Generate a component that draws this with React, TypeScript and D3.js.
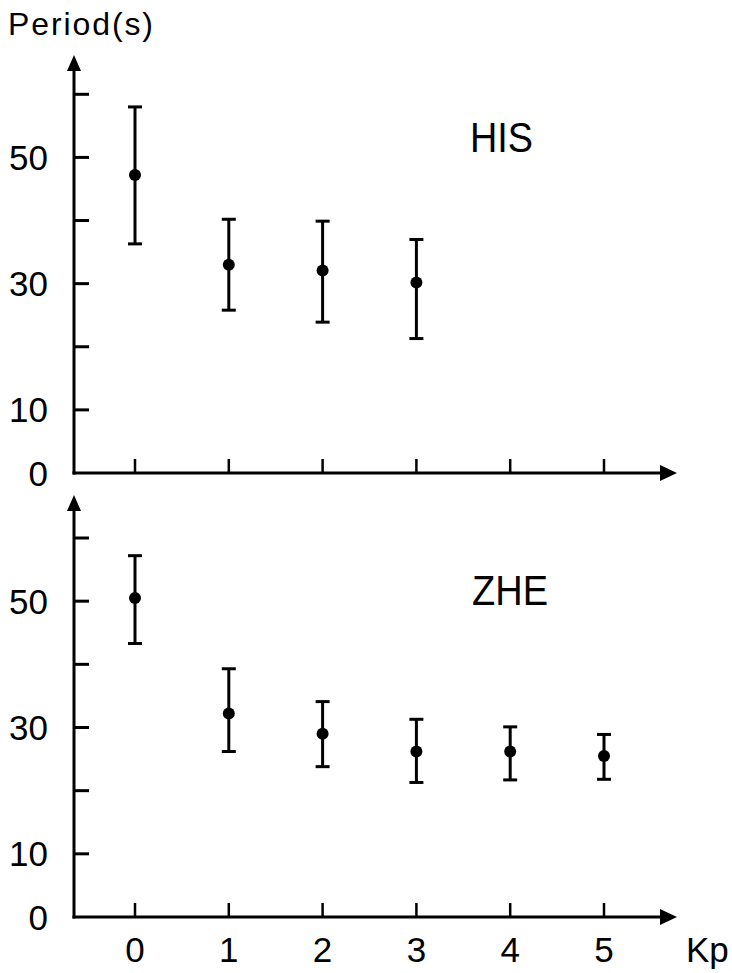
import React from "react";
import * as d3 from "d3";

const kpTop = [0, 1, 2, 3];
const hisMean = [47.2, 33.0, 32.1, 30.2];
const hisLow = [36.3, 25.8, 23.9, 21.3];
const hisHigh = [58.0, 40.2, 39.9, 37.0];

const kpBot = [0, 1, 2, 3, 4, 5];
const zheMean = [50.5, 32.2, 29.0, 26.2, 26.2, 25.5];
const zheLow = [43.3, 26.2, 23.8, 21.3, 21.7, 21.8];
const zheHigh = [57.2, 39.3, 34.1, 31.3, 30.1, 28.9];

const yTickValues = [10, 20, 30, 40, 50, 60];
const yLabelValues = [0, 10, 30, 50];
const xTickValues = [0, 1, 2, 3, 4, 5];

const FONT = "'Liberation Sans', Arial, sans-serif";

const x = d3.scaleLinear().domain([0, 5]).range([135, 604]);
const AXIS_X = 74;
const X_END = 677;

function Panel({ y, kp, mean, low, high, name, arrowTop, nameX, nameY, nameLen }: any) {
  const y0 = y(0);
  return (
    <g>
      <line x1={AXIS_X} x2={AXIS_X} y1={y0 + 1.5} y2={arrowTop + 12} stroke="#000" strokeWidth={3} />
      <path d={`M${AXIS_X},${arrowTop} L${AXIS_X - 7},${arrowTop + 16} L${AXIS_X + 7},${arrowTop + 16} Z`} fill="#000" />
      <line x1={AXIS_X - 1.5} x2={X_END - 12} y1={y0} y2={y0} stroke="#000" strokeWidth={3} />
      <path d={`M${X_END},${y0} L${X_END - 17},${y0 - 8} L${X_END - 17},${y0 + 8} Z`} fill="#000" />
      {yTickValues.map((v) => (
        <line key={"yt" + v} x1={AXIS_X} x2={AXIS_X + 15} y1={y(v)} y2={y(v)} stroke="#000" strokeWidth={3} />
      ))}
      {xTickValues.map((v) => (
        <line key={"xt" + v} x1={x(v)} x2={x(v)} y1={y0} y2={y0 - 14} stroke="#000" strokeWidth={2.5} />
      ))}
      {yLabelValues.map((v) => (
        <text key={"yl" + v} x={48} y={v === 0 ? y0 : y(v)} dy="0.36em" textAnchor="end" fontSize={35} fontFamily={FONT} fill="#000">
          {v}
        </text>
      ))}
      {kp.map((k: number, i: number) => (
        <g key={"e" + k}>
          <line x1={x(k)} x2={x(k)} y1={y(low[i])} y2={y(high[i])} stroke="#000" strokeWidth={3} />
          <line x1={x(k) - 7} x2={x(k) + 7} y1={y(low[i])} y2={y(low[i])} stroke="#000" strokeWidth={3} />
          <line x1={x(k) - 7} x2={x(k) + 7} y1={y(high[i])} y2={y(high[i])} stroke="#000" strokeWidth={3} />
          <circle cx={x(k)} cy={y(mean[i])} r={6} fill="#000" />
        </g>
      ))}
      <text x={nameX} y={nameY} fontSize={43} fontFamily={FONT} fill="#000" textLength={nameLen} lengthAdjust="spacingAndGlyphs">
        {name}
      </text>
    </g>
  );
}

export default function App() {
  const yTop = d3.scaleLinear().domain([0, 60]).range([473, 94.3]);
  const yBot = d3.scaleLinear().domain([0, 60]).range([917, 538]);
  return (
    <svg width={732} height={973} style={{ position: "absolute", left: 0, top: 0, background: "#fff" }}>
      <rect width={732} height={973} fill="#fff" />
      <text x={8} y={35} fontSize={32} fontFamily={FONT} fill="#000" textLength={145} lengthAdjust="spacing">
        Period(s)
      </text>
      <Panel y={yTop} kp={kpTop} mean={hisMean} low={hisLow} high={hisHigh} name="HIS" arrowTop={55} nameX={470} nameY={152} nameLen={63} />
      <Panel y={yBot} kp={kpBot} mean={zheMean} low={zheLow} high={zheHigh} name="ZHE" arrowTop={495} nameX={472} nameY={605} nameLen={76} />
      {xTickValues.map((v) => (
        <text key={"xl" + v} x={x(v)} y={962} textAnchor="middle" fontSize={35} fontFamily={FONT} fill="#000">
          {v}
        </text>
      ))}
      <text x={686} y={962} fontSize={35} fontFamily={FONT} fill="#000">
        Kp
      </text>
    </svg>
  );
}
